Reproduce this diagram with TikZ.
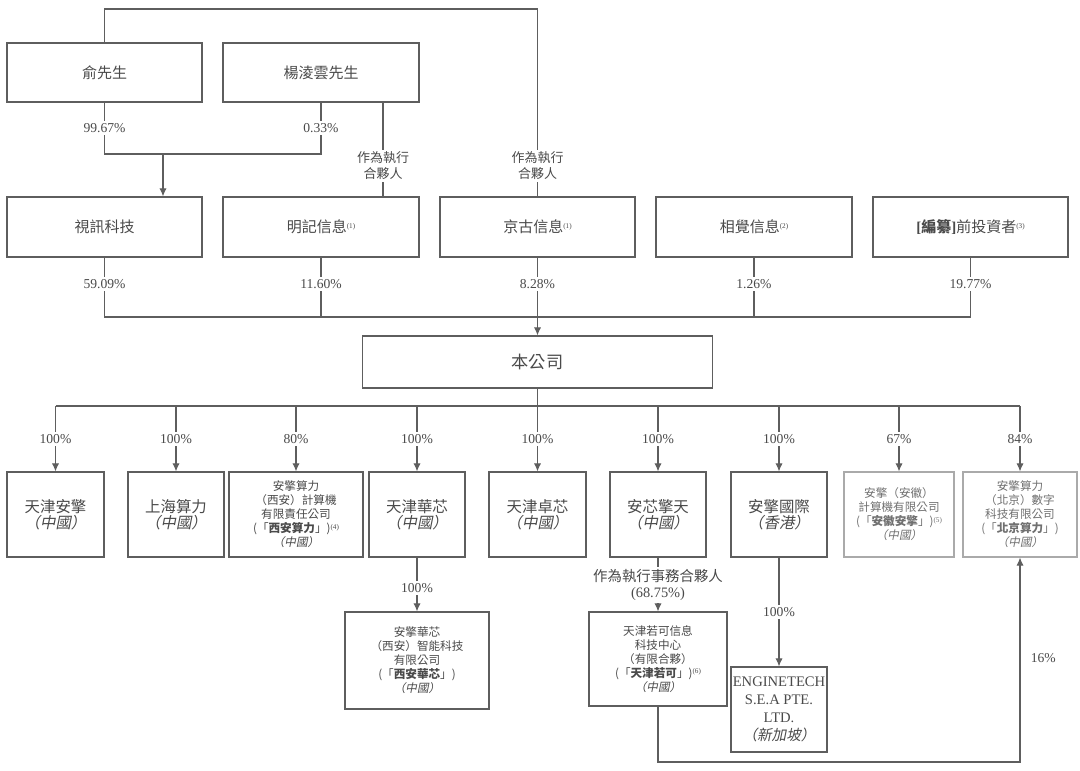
\documentclass[tikz,border=0pt]{standalone}
\usepackage{fontspec}
\setmainfont{Liberation Serif}
\newfontfamily\cjk{Noto Sans CJK TC}
\newfontfamily\cjki{Noto Sans CJK TC}[FakeSlant=0.2]
\usetikzlibrary{arrows.meta,calc}
\definecolor{ln}{HTML}{5E5E5E}
\definecolor{tx}{HTML}{4A4A4A}
\definecolor{lt}{HTML}{AAAAAA}
\definecolor{ltx}{HTML}{707070}
\newcommand\fnm[1]{\raisebox{0.55ex}{\rmfamily\fontsize{3.6}{4}\selectfont(#1)}}
\newcommand\zg[1]{{\cjki （#1）}}
\newcommand\bigf{\cjk\fontsize{7.5}{9}\selectfont}
\newcommand\midf{\cjk\fontsize{7.7}{8}\selectfont}
\newcommand\smf{\cjk\fontsize{5.8}{7}\selectfont}
\tikzset{
  box/.style={draw=ln, line width=0.6pt, text=tx, align=center, inner sep=0pt, anchor=center},
  lbox/.style={box, draw=lt, text=ltx},
  pct/.style={fill=white, text=tx, font=\rmfamily\fontsize{6.8}{8}\selectfont, inner sep=1.2pt},
  lab/.style={fill=white, text=tx, align=center, font=\cjk\fontsize{6.5}{8}\selectfont, inner sep=1pt},
  conn/.style={draw=ln, line width=0.55pt},
  arr/.style={conn, -{Latex[length=4pt,width=3.6pt]}}
}
\begin{document}
\begin{tikzpicture}[x=0.5pt,y=-0.5pt]
\fill[white] (0,0) rectangle (1080,770);
\useasboundingbox (0,0) rectangle (1080,770);

% row 1
\node[box, minimum width=97.5pt, minimum height=29.5pt, font=\bigf] (yu) at (104.5,72.5) {俞先生};
\node[box, minimum width=98pt, minimum height=29.5pt, font=\bigf] (yang) at (321,72.5) {楊淩雲先生};

% row 2
\node[box, minimum width=97.5pt, minimum height=30pt, font=\bigf] (sx) at (104.5,227) {視訊科技};
\node[box, minimum width=98pt, minimum height=30pt, font=\bigf] (mj) at (321,227) {明記信息\fnm{1}};
\node[box, minimum width=97.5pt, minimum height=30pt, font=\bigf] (jg) at (537.5,227) {京古信息\fnm{1}};
\node[box, minimum width=98pt, minimum height=30pt, font=\bigf] (xj) at (754,227) {相覺信息\fnm{2}};
\node[box, minimum width=97.5pt, minimum height=30pt, font=\bigf] (bz) at (970.5,227) {{\rmfamily\bfseries[}\textbf{編纂}{\rmfamily\bfseries]}前投資者\fnm{3}};

% company
\node[box, minimum width=175pt, minimum height=26pt, font=\cjk\fontsize{8.6}{10}\selectfont] (gs) at (537.5,362) {本公司};

% row 3
\node[box, minimum width=48.5pt, minimum height=42.5pt, font=\midf] (tjaq) at (55.5,514.5) {天津安擎\\\zg{中國}};
\node[box, minimum width=48pt, minimum height=42.5pt, font=\midf] (shsl) at (176,514.5) {上海算力\\\zg{中國}};
\node[box, minimum width=67pt, minimum height=42.5pt, font=\smf] (xasl) at (296,514.5) {安擎算力\\（西安）計算機\\有限責任公司\\(「\textbf{西安算力}」)\fnm{4}\\\zg{中國}};
\node[box, minimum width=48pt, minimum height=42.5pt, font=\midf] (tjhx) at (417,514.5) {天津華芯\\\zg{中國}};
\node[box, minimum width=48.5pt, minimum height=42.5pt, font=\midf] (tjzx) at (537.5,514.5) {天津卓芯\\\zg{中國}};
\node[box, minimum width=48pt, minimum height=42.5pt, font=\midf] (axqt) at (658,514.5) {安芯擎天\\\zg{中國}};
\node[box, minimum width=48pt, minimum height=42.5pt, font=\midf] (aqgj) at (779,514.5) {安擎國際\\\zg{香港}};
\node[lbox, minimum width=55pt, minimum height=42.5pt, font=\smf] (ahaq) at (899,514.5) {安擎（安徽）\\計算機有限公司\\(「\textbf{安徽安擎}」)\fnm{5}\\\zg{中國}};
\node[lbox, minimum width=57pt, minimum height=42.5pt, font=\smf] (bjsl) at (1020,514.5) {安擎算力\\（北京）數字\\科技有限公司\\(「\textbf{北京算力}」)\\\zg{中國}};

% row 4
\node[box, minimum width=72pt, minimum height=48.5pt, font=\smf] (xahx) at (417,660.5) {安擎華芯\\（西安）智能科技\\有限公司\\(「\textbf{西安華芯}」)\\\zg{中國}};
\node[box, minimum width=69pt, minimum height=47pt, font=\smf] (tjrk) at (658,659) {天津若可信息\\科技中心\\（有限合夥）\\(「\textbf{天津若可}」)\fnm{6}\\\zg{中國}};
\node[box, minimum width=48pt, minimum height=42.5pt, font=\rmfamily\fontsize{7.3}{9}\selectfont] (eng) at (779,709.5) {ENGINETECH\\S.E.A PTE.\\LTD.\\\zg{新加坡}};

% top connectors
\coordinate (t2) at (537.5,9);
\draw[conn] (yu.north) |- (t2) -- (jg.north);
\coordinate (j1) at (0,154);
\draw[conn] (yu.south) -- (yu.south |- j1) -- (yang.south |- j1) -- (yang.south);
\coordinate (j1a) at (163,154);
\draw[arr] (j1a) -- (j1a |- sx.north);
\draw[conn] ([xshift=31pt]yang.south) -- ([xshift=31pt]mj.north);
\node[pct] at (104.5,128) {99.67\%};
\node[pct] at (321,128) {0.33\%};
\node[lab] at (383,166) {作為執行\\合夥人};
\node[lab] at (537.5,166) {作為執行\\合夥人};

% row 2 to company
\coordinate (h2) at (0,317);
\draw[conn] (sx.south) -- (sx.south |- h2) -- (bz.south |- h2) -- (bz.south);
\draw[conn] (mj.south) -- (mj.south |- h2);
\draw[conn] (xj.south) -- (xj.south |- h2);
\draw[arr] (jg.south) -- (gs.north);
\node[pct] at (104.5,284) {59.09\%};
\node[pct] at (321,284) {11.60\%};
\node[pct] at (537.5,284) {8.28\%};
\node[pct] at (754,284) {1.26\%};
\node[pct] at (970.5,284) {19.77\%};

% company to subsidiaries
\coordinate (h3) at (0,406);
\draw[conn] (gs.south) -- (gs.south |- h3);
\draw[conn] (tjaq.north |- h3) -- (bjsl.north |- h3);
\foreach \n/\p in {tjaq/100\%, shsl/100\%, xasl/80\%, tjhx/100\%, tjzx/100\%, axqt/100\%, aqgj/100\%, ahaq/67\%, bjsl/84\%}{
  \draw[arr] (\n.north |- h3) -- (\n.north);
  \node[pct] at ($(\n.north |- h3)!0.5!(\n.north)$) {\p};
}

% lower connectors
\draw[arr] (tjhx.south) -- (xahx.north);
\node[pct] at (417,588) {100\%};
\draw[arr] (axqt.south) -- (tjrk.north);
\node[lab, font=\cjk\fontsize{7.2}{8.2}\selectfont] at (658,585) {作為執行事務合夥人\\{\rmfamily (68.75\%)}};
\draw[arr] (aqgj.south) -- (eng.north);
\node[pct] at (779,612) {100\%};
\coordinate (b1) at (0,762);
\draw[arr] (tjrk.south) -- (tjrk.south |- b1) -- (bjsl.south |- b1) -- (bjsl.south);
\node[pct, anchor=west] at (1028,658) {16\%};
\end{tikzpicture}
\end{document}
